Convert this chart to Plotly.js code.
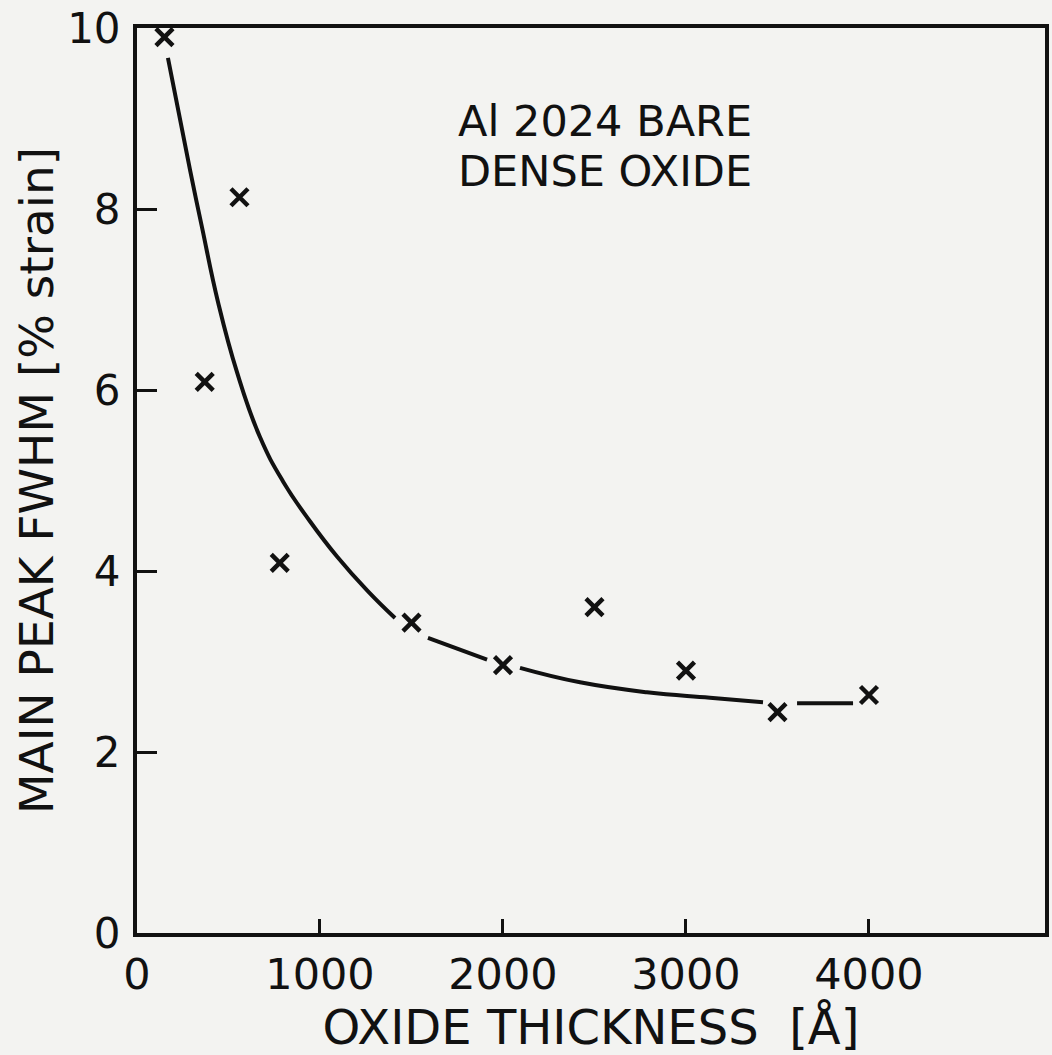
<!DOCTYPE html>
<html>
<head>
<meta charset="utf-8">
<script src="https://cdn.plot.ly/plotly-3.0.1.min.js"></script>
<style>html,body{margin:0;padding:0;background:#f3f3f1;}#chart{width:1052px;height:1055px;}</style>
</head>
<body>
<div id="chart"></div>
<script>
// Measured points (x marks)
const thickness = [150, 370, 560, 780, 1500, 2000, 2500, 3000, 3500, 4000];
const fwhm = [9.90, 6.09, 8.13, 4.09, 3.43, 2.96, 3.60, 2.90, 2.44, 2.63];
// Hand-drawn trend curve (null = break in the drawn line at a marker)
const curveX = [169, 290, 355, 443, 546, 672, 798, 945, 1093, 1260, 1410, null, 1590, 1913, null, 2093, 2421, 2787, 3131, 3421, null, 3607, 3913];
const curveY = [9.67, 8.43, 7.80, 6.97, 6.20, 5.48, 4.99, 4.55, 4.16, 3.78, 3.48, null, 3.26, 3.02, null, 2.93, 2.77, 2.66, 2.60, 2.55, null, 2.54, 2.54];
const xTicks = [0, 1000, 2000, 3000, 4000];
const yTicks = [0, 2, 4, 6, 8, 10];
const labelLines = ["Al 2024 BARE", "DENSE OXIDE"];

const font = "DejaVu Sans, sans-serif";
const traces = [
  {x: curveX, y: curveY, mode: "lines", line: {color: "#111", width: 4, shape: "spline", smoothing: 1.3}, connectgaps: false, hoverinfo: "skip"},
  {x: thickness, y: fwhm, mode: "markers", marker: {symbol: "x-thin", size: 17, color: "#111", line: {color: "#111", width: 4.5}}}
];
const layout = {
  width: 1052, height: 1055,
  paper_bgcolor: "#f3f3f1", plot_bgcolor: "#f3f3f1",
  margin: {l: 137, r: 7, t: 28, b: 122},
  showlegend: false,
  font: {family: font, color: "#111"},
  xaxis: {
    range: [0, 4962], tickvals: xTicks, ticktext: xTicks.map(String),
    ticks: "inside", ticklen: 14, tickwidth: 3, tickcolor: "#111",
    showline: true, linewidth: 4, linecolor: "#111", mirror: true,
    showgrid: false, zeroline: false,
    tickfont: {size: 43, family: font, color: "#111"},
    ticklabelstandoff: 0,
    title: {text: "OXIDE THICKNESS  [Å]", font: {size: 48, family: font, color: "#111"}, standoff: 14}
  },
  yaxis: {
    range: [0, 10], tickvals: yTicks, ticktext: yTicks.map(String),
    ticks: "inside", ticklen: 20, tickwidth: 3, tickcolor: "#111",
    showline: true, linewidth: 4, linecolor: "#111", mirror: true,
    showgrid: false, zeroline: false,
    tickfont: {size: 42, family: font, color: "#111"},
    ticklabelstandoff: 4,
    title: {text: "MAIN PEAK FWHM [% strain]", font: {size: 47, family: font, color: "#111"}, standoff: 0}
  },
  annotations: [
    {xref: "paper", yref: "paper", x: (456-137)/908, y: (933-121)/905, xanchor: "left", yanchor: "middle", text: labelLines[0], showarrow: false, font: {size: 43, family: font, color: "#111"}},
    {xref: "paper", yref: "paper", x: (456-137)/908, y: (933-171)/905, xanchor: "left", yanchor: "middle", text: labelLines[1], showarrow: false, font: {size: 43, family: font, color: "#111"}}
  ]
};
Plotly.newPlot("chart", traces, layout, {displayModeBar: false, staticPlot: true});
</script>
</body>
</html>
